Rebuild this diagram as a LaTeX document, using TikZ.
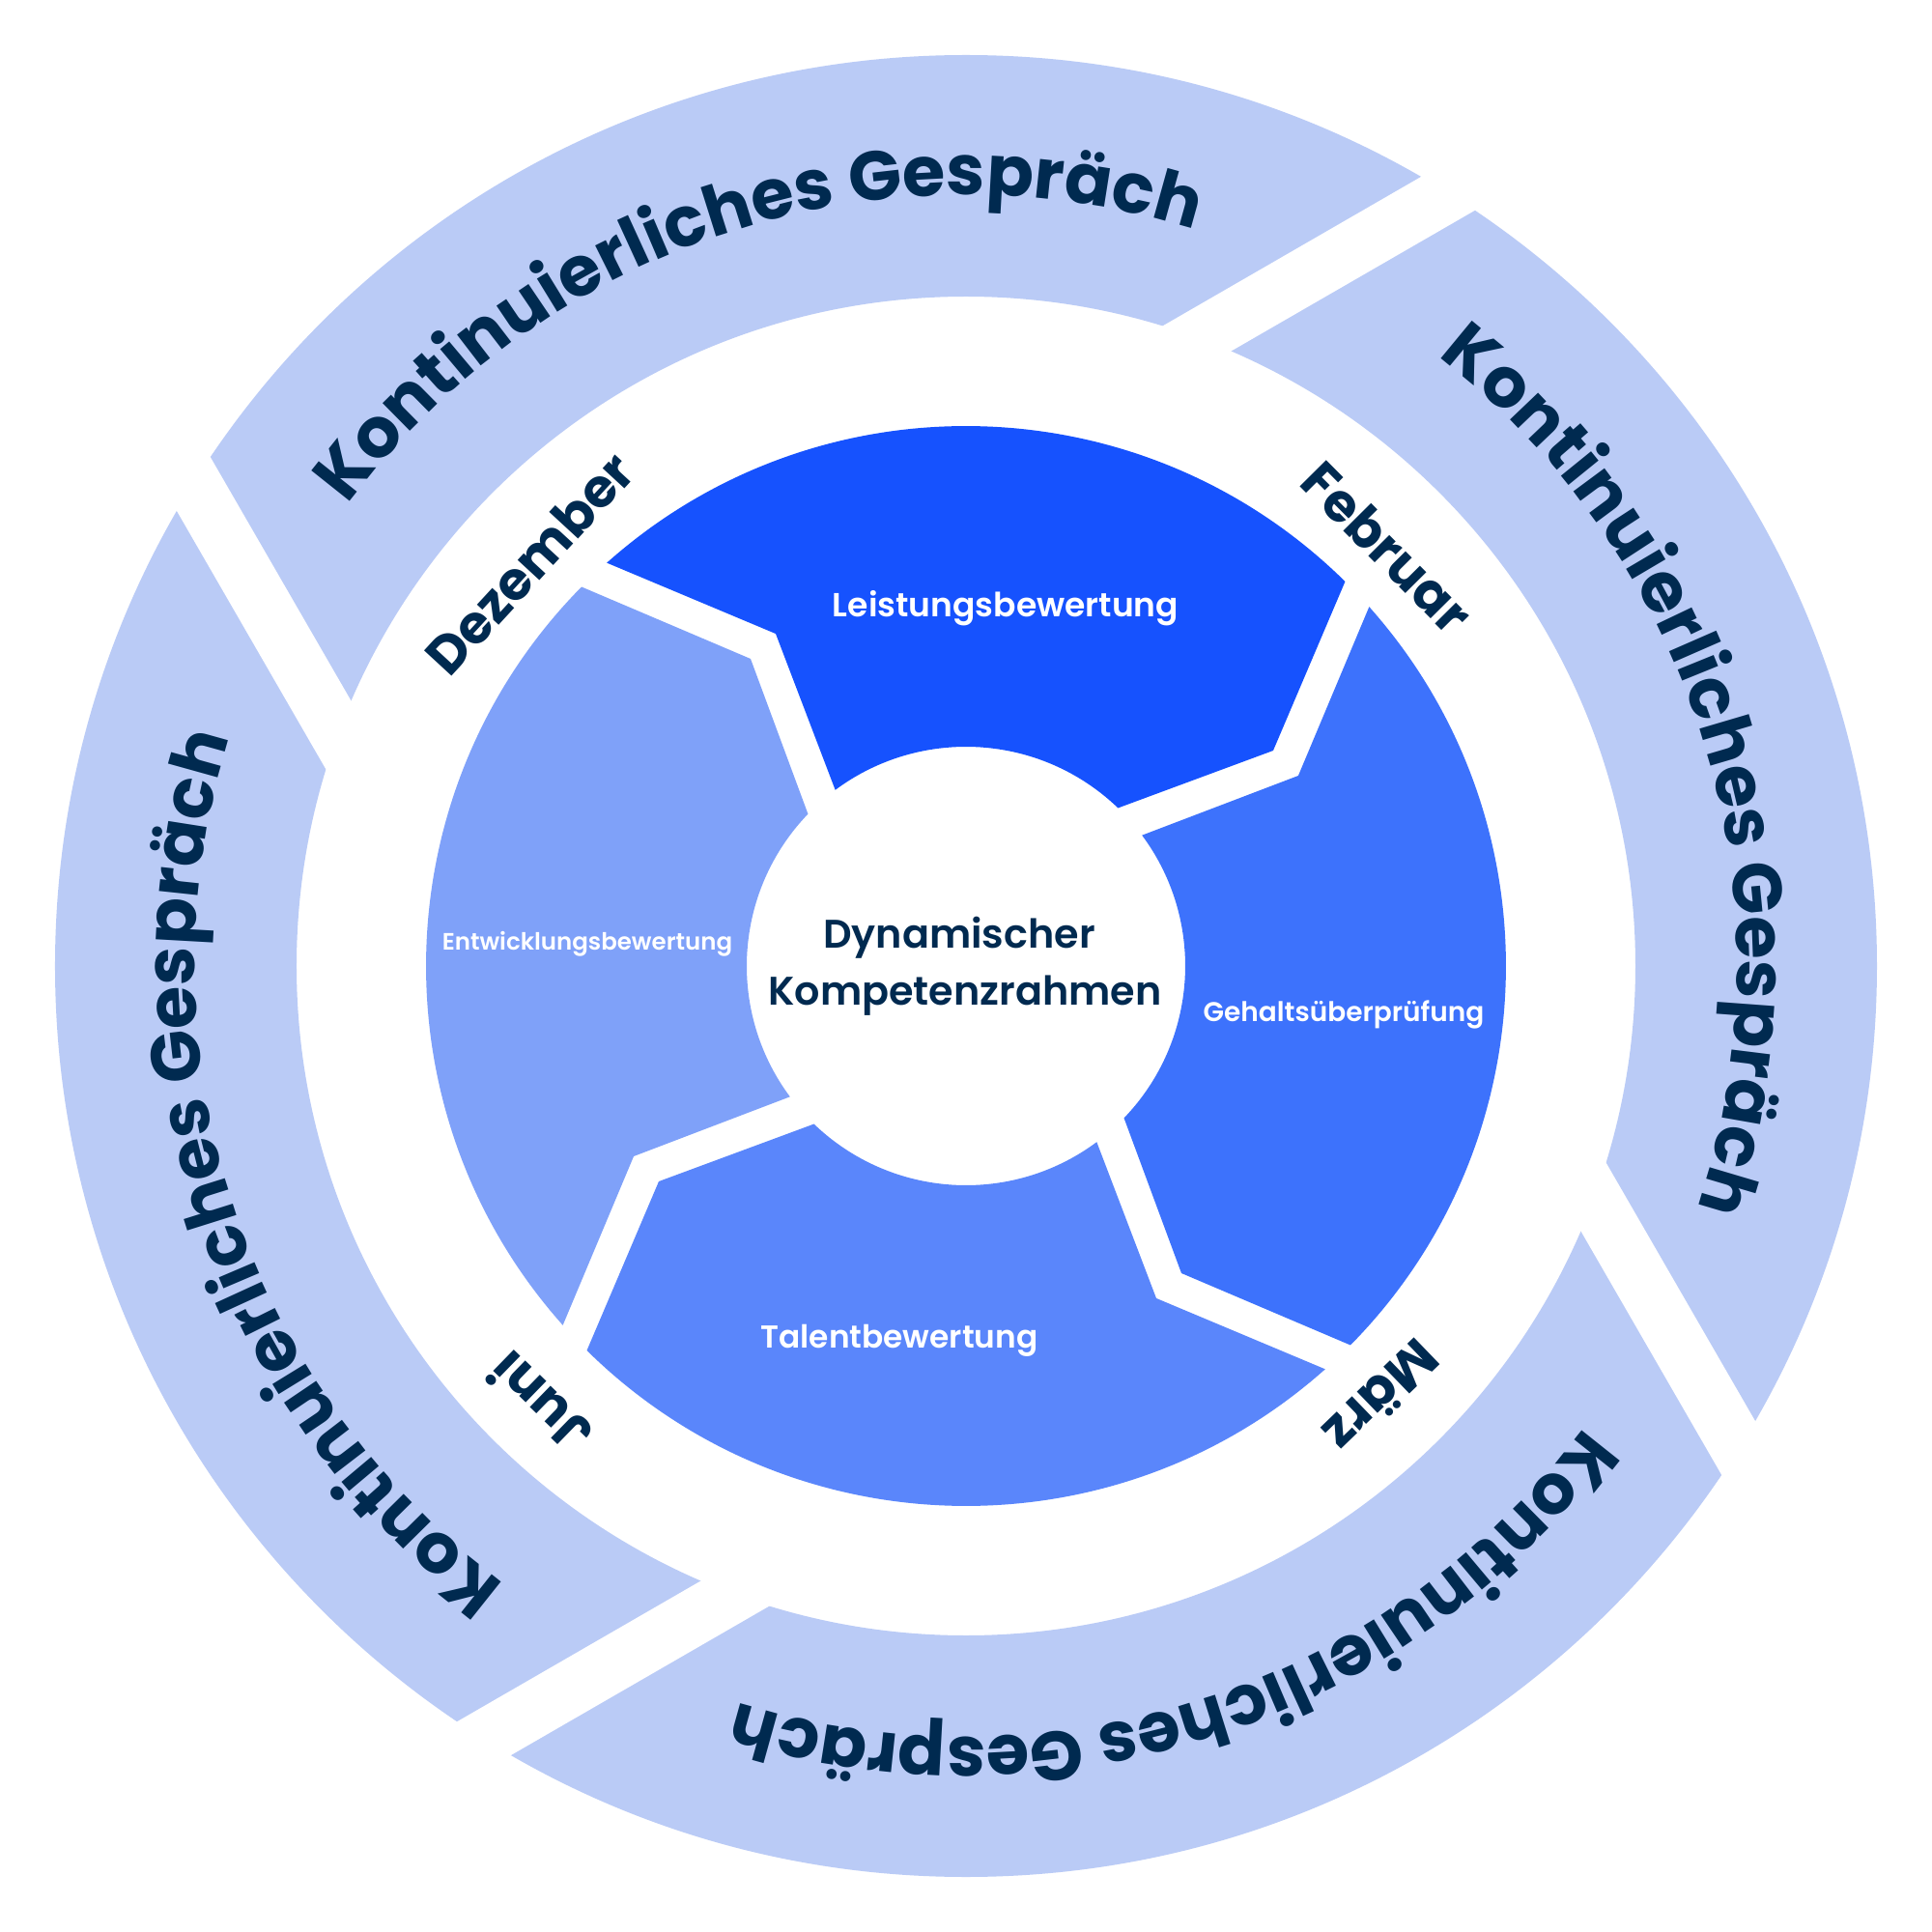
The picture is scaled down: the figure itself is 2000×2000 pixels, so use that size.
\documentclass[tikz,border=0pt]{standalone}
\usepackage{fontspec}
\usetikzlibrary{decorations.text}
\newfontfamily\popfam{Poppins}
\newfontfamily\popsemi{Poppins SemiBold}
\definecolor{ringc}{HTML}{BACBF6}
\definecolor{segA}{HTML}{1652FE}
\definecolor{segB}{HTML}{3D72FC}
\definecolor{segC}{HTML}{5A86FB}
\definecolor{segD}{HTML}{7FA1F9}
\definecolor{navy}{HTML}{002A50}
\newcommand\ringtxtfont{\popfam\bfseries\fontsize{72}{78}\selectfont}
\newcommand\monthfont{\popfam\bfseries\fontsize{55}{60}\selectfont}
\newcommand\seg[2]{\fill[#2] ({131.7+(#1)}:559) arc[start angle={131.7+(#1)}, end angle={45.4+(#1)}, radius=559] -- ({35.04+(#1)}:388.4) -- ({46.1+(#1)}:227) arc[start angle={46.1+(#1)}, end angle={126.6+(#1)}, radius=227] -- ({119.8+(#1)}:396.4) -- cycle;}
\tikzset{
  monthlbl/.style={font=\monthfont, text=navy, inner sep=0pt},
  seglbl/.style={text=white, inner sep=0pt, anchor=base},
  ctrlbl/.style={text=navy, inner sep=0pt, anchor=base, font=\popsemi\fontsize{41.3}{50}\selectfont},
}
\begin{document}
\begin{tikzpicture}[x=1pt,y=1pt]
\useasboundingbox (-1000,-1000) rectangle (1000,1000);
\fill[white] (-1000,-1000) rectangle (1000,1000);
% outer ring
\fill[ringc, even odd rule] (0,0) circle[radius=943] (0,0) circle[radius=693];
\foreach \a in {30,120,210,300} {
  \begin{scope}[rotate=\a]
    \fill[white] (440,414) -- (1000,414) -- (1000,472) -- (440,472) -- cycle;
  \end{scope}
}
% segments
\seg{0}{segA}
\seg{-90}{segB}
\seg{-180}{segC}
\seg{-270}{segD}
% ring texts
\foreach \c in {108,17,-72,-162} {
  \path[decorate, decoration={text along path, text align=center, text color=navy,
     text={|\ringtxtfont|Kontinuierliches Gespräch}}]
     ({\c+55}:798) arc[start angle={\c+55}, end angle={\c-55}, radius=798];
}
% months
\node[monthlbl, rotate=47.3] (dez) at (137.3:615) {Dezember};
\node[monthlbl, rotate=-45.2] (feb) at (44.8:615) {Februar};
\node[monthlbl, rotate=-136] (mar) at (-46:620) {März};
\node[monthlbl, rotate=135.8] (jun) at (-134.2:633) {Juni};
% segment labels
\node[seglbl, font=\popsemi\fontsize{34.5}{40}\selectfont] (leis) at (41,361) {Leistungsbewertung};
\node[seglbl, font=\popsemi\fontsize{28}{32}\selectfont] (geh) at (391,-57) {Gehaltsüberprüfung};
\node[seglbl, font=\popsemi\fontsize{32.8}{36}\selectfont] (tal) at (-69,-395) {Talentbewertung};
\node[seglbl, font=\popsemi\fontsize{24.5}{28}\selectfont] (ent) at (-392,17) {Entwicklungsbewertung};
% centre
\node[ctrlbl] (dyn) at (-7,19) {Dynamischer};
\node[ctrlbl] (komp) at (-1,-40) {Kompetenzrahmen};
\end{tikzpicture}
\end{document}
